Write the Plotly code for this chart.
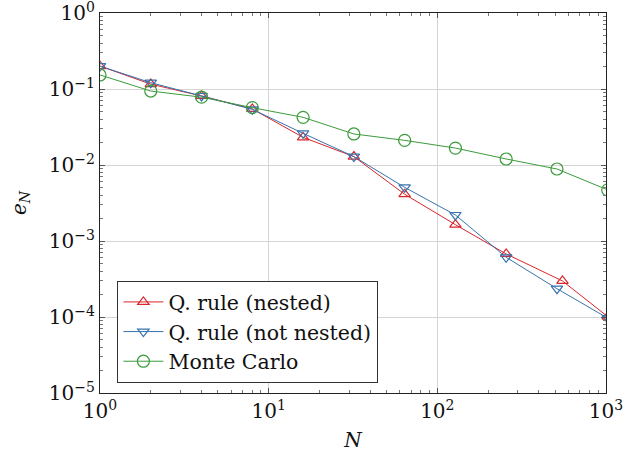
import plotly.graph_objects as go

# Data
n_nested = [1, 2, 4, 8, 16, 32, 64, 128, 256, 552, 1024]
e_nested = [0.200, 0.116, 0.081, 0.0546, 0.0231, 0.0129, 0.00413, 0.00164, 0.000675, 0.000298, 0.000101]

n_notnested = [1, 2, 4, 8, 16, 32, 64, 128, 256, 512, 1024]
e_notnested = [0.200, 0.121, 0.081, 0.0540, 0.0261, 0.0129, 0.00508, 0.00220, 0.000610, 0.000236, 0.0000965]

n_mc = [1, 2, 4, 8, 16, 32, 64, 128, 256, 512, 1024]
e_mc = [0.153, 0.094, 0.078, 0.0568, 0.0424, 0.0256, 0.0211, 0.0167, 0.0120, 0.00886, 0.0047]

x_tickvals = [1, 10, 100, 1000]
x_ticktext = ["10<sup>0</sup>", "10<sup>1</sup>", "10<sup>2</sup>", "10<sup>3</sup>"]
y_tickvals = [1e-5, 1e-4, 1e-3, 1e-2, 1e-1, 1.0]
y_ticktext = ["10<sup>\u22125</sup>", "10<sup>\u22124</sup>", "10<sup>\u22123</sup>",
              "10<sup>\u22122</sup>", "10<sup>\u22121</sup>", "10<sup>0</sup>"]

RED = "#d7262b"
BLUE = "#3873ae"
GREEN = "#3b9b3b"
FONT = "DejaVu Serif"

x_minor = [m * 10 ** k for k in range(0, 3) for m in range(2, 10)]
y_minor = [m * 10.0 ** k for k in range(-5, 0) for m in range(2, 10)]

fig = go.Figure()
fig.add_trace(go.Scatter(x=n_nested, y=e_nested, mode="lines+markers", name="Q. rule (nested)",
                         line=dict(color=RED, width=1),
                         marker=dict(symbol="triangle-up-open", size=10, color=RED, line=dict(width=1.2))))
fig.add_trace(go.Scatter(x=n_notnested, y=e_notnested, mode="lines+markers", name="Q. rule (not nested)",
                         line=dict(color=BLUE, width=1),
                         marker=dict(symbol="triangle-down-open", size=10, color=BLUE, line=dict(width=1.2))))
fig.add_trace(go.Scatter(x=n_mc, y=e_mc, mode="lines+markers", name="Monte Carlo",
                         line=dict(color=GREEN, width=1),
                         marker=dict(symbol="circle-open", size=12, color=GREEN, line=dict(width=1.2))))

axis_common = dict(
    showline=True, linecolor="#222", linewidth=1.2, mirror="ticks",
    ticks="inside", ticklen=5, tickcolor="#555", tickwidth=1,
    showgrid=True, gridcolor="#d4d4d4", gridwidth=1, zeroline=False,
    tickfont=dict(family=FONT, size=20, color="#111"),
    ticklabeloverflow="allow",
    automargin=False,
)

fig.update_xaxes(type="log", range=[0, 3], tickmode="array", tickvals=x_tickvals, ticktext=x_ticktext,
                 minor=dict(ticks="inside", ticklen=3, tickcolor="#777", tickmode="array", tickvals=x_minor, showgrid=False),
                 title=dict(text="<i>N</i>", font=dict(family=FONT, size=20, color="#111"), standoff=10),
                 **axis_common)
fig.update_yaxes(type="log", range=[-5, 0], tickmode="array", tickvals=y_tickvals, ticktext=y_ticktext,
                 minor=dict(ticks="inside", ticklen=3, tickcolor="#777", tickmode="array", tickvals=y_minor, showgrid=False),
                 title=dict(text="<i>e<sub>N</sub></i>", font=dict(family=FONT, size=20, color="#111"), standoff=16),
                 **axis_common)

fig.update_layout(
    width=633, height=457,
    margin=dict(l=100, r=27, t=13, b=64),
    plot_bgcolor="white", paper_bgcolor="white",
    font=dict(family=FONT, size=20, color="#111"),
    legend=dict(x=0.034, y=0.295, xanchor="left", yanchor="top",
                bgcolor="white", bordercolor="#333", borderwidth=1.2,
                font=dict(family=FONT, size=20.5, color="#111"),
                itemwidth=40, tracegroupgap=0),
    showlegend=True,
)

fig.write_html("out.html", config={"displayModeBar": False},
               post_script="document.body.style.margin='0';document.body.style.overflow='hidden';")
